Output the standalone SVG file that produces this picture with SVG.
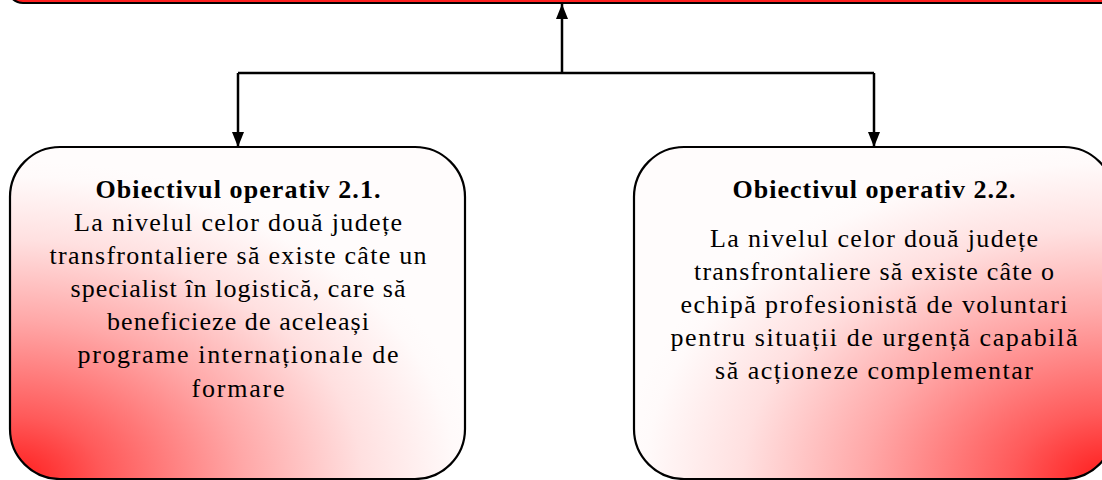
<svg xmlns="http://www.w3.org/2000/svg" width="1102" height="480" viewBox="0 0 1102 480">
<style>
.box{stroke:#000;stroke-width:2.2}
.t{font-family:"Liberation Serif","Times New Roman",serif;font-size:26px;fill:#000;text-anchor:middle}
.b{font-weight:bold}
.c{fill:none;stroke:#000;stroke-width:2.5}
</style>
<defs>
<radialGradient id="gL" gradientUnits="userSpaceOnUse" cx="10" cy="480" r="470" gradientTransform="translate(10 480) scale(1 0.68) translate(-10 -480)">
<stop offset="0" stop-color="#ff1a1a"/>
<stop offset="0.2" stop-color="#ff5a5a"/>
<stop offset="0.5" stop-color="#ffa8a8"/>
<stop offset="0.75" stop-color="#ffe0e0"/>
<stop offset="0.95" stop-color="#fffafa"/>
<stop offset="1" stop-color="#fffcfc"/>
</radialGradient>
<radialGradient id="gR" gradientUnits="userSpaceOnUse" cx="1110" cy="480" r="490" gradientTransform="translate(1110 480) scale(1 0.68) translate(-1110 -480)">
<stop offset="0" stop-color="#ff1a1a"/>
<stop offset="0.2" stop-color="#ff5a5a"/>
<stop offset="0.5" stop-color="#ffa8a8"/>
<stop offset="0.75" stop-color="#ffe0e0"/>
<stop offset="0.95" stop-color="#fffafa"/>
<stop offset="1" stop-color="#fffcfc"/>
</radialGradient>
<marker id="ah" markerUnits="userSpaceOnUse" markerWidth="15" markerHeight="12" viewBox="0 0 15 12" refX="15" refY="6" orient="auto">
<path d="M0,0 L15,6 L0,12 z" fill="#000"/>
</marker>
</defs>
<g id="top">
<rect class="box" x="8" y="-60" width="1150" height="63" rx="15" fill="#ff2020"/>
</g>
<g id="connectors">
<path class="c" d="M238,73 H874"/>
<path class="c" d="M562,73 V4" marker-end="url(#ah)"/>
<path class="c" d="M238,73 V147" marker-end="url(#ah)"/>
<path class="c" d="M874,73 V147" marker-end="url(#ah)"/>
</g>
<g id="op21">
<rect class="box" x="10" y="147" width="455" height="332" rx="50" fill="url(#gL)"/>
<text class="t b" x="238" y="198" textLength="285" lengthAdjust="spacing">Obiectivul operativ 2.1.</text>
<text class="t" x="238" y="231" textLength="328" lengthAdjust="spacing">La nivelul celor două județe</text>
<text class="t" x="238" y="264" textLength="377" lengthAdjust="spacing">transfrontaliere să existe câte un</text>
<text class="t" x="238" y="297" textLength="335" lengthAdjust="spacing">specialist în logistică, care să</text>
<text class="t" x="238" y="330" textLength="262" lengthAdjust="spacing">beneficieze de aceleași</text>
<text class="t" x="238" y="363" textLength="321" lengthAdjust="spacing">programe internaționale de</text>
<text class="t" x="238" y="397" textLength="93" lengthAdjust="spacing">formare</text>
</g>
<g id="op22">
<rect class="box" x="634" y="147" width="480" height="332" rx="50" fill="url(#gR)"/>
<text class="t b" x="874" y="198" textLength="283" lengthAdjust="spacing">Obiectivul operativ 2.2.</text>
<text class="t" x="874" y="247" textLength="328" lengthAdjust="spacing">La nivelul celor două județe</text>
<text class="t" x="874" y="280" textLength="360" lengthAdjust="spacing">transfrontaliere să existe câte o</text>
<text class="t" x="874" y="313" textLength="387" lengthAdjust="spacing">echipă profesionistă de voluntari</text>
<text class="t" x="874" y="346" textLength="407" lengthAdjust="spacing">pentru situații de urgență capabilă</text>
<text class="t" x="874" y="379" textLength="318" lengthAdjust="spacing">să acționeze complementar</text>
</g>
</svg>
